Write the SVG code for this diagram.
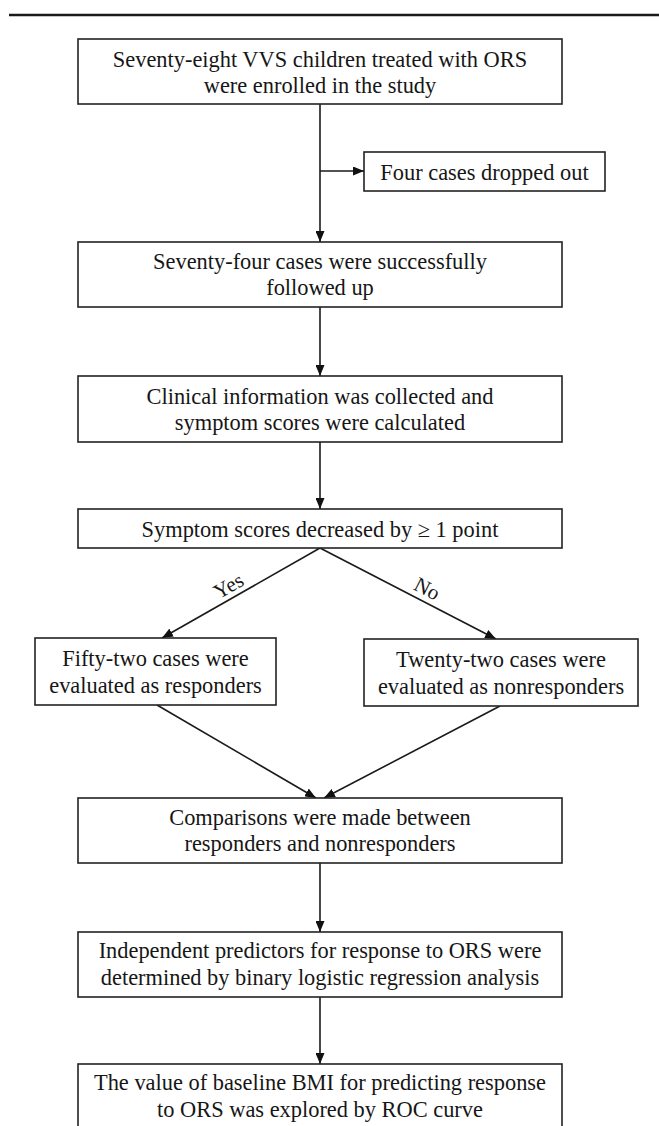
<svg xmlns="http://www.w3.org/2000/svg" width="659" height="1126" viewBox="0 0 659 1126">
<style>
.box{fill:#fff;stroke:#222;stroke-width:1.6}
.t{font-family:"Liberation Serif","Times New Roman",serif;font-size:22.4px;fill:#161616;text-anchor:middle}
.c{fill:none;stroke:#1a1a1a;stroke-width:1.6}
</style>
<defs>
<marker id="ah" markerUnits="userSpaceOnUse" markerWidth="11" markerHeight="9" refX="11" refY="4.5" orient="auto">
<path d="M0,0 L11,4.5 L0,9 z" fill="#111"/>
</marker>
</defs>
<rect width="659" height="1126" fill="#fff"/>
<line x1="9" y1="15" x2="659" y2="15" stroke="#1a1a1a" stroke-width="2.5"/>
<g id="connectors">
<line class="c" x1="320" y1="104" x2="320" y2="242" marker-end="url(#ah)"/>
<line class="c" x1="320" y1="171" x2="364" y2="171" marker-end="url(#ah)"/>
<line class="c" x1="320" y1="307" x2="320" y2="376" marker-end="url(#ah)"/>
<line class="c" x1="320" y1="442" x2="320" y2="509" marker-end="url(#ah)"/>
<line class="c" x1="320" y1="548" x2="162" y2="638" marker-end="url(#ah)"/>
<line class="c" x1="320" y1="548" x2="496" y2="639" marker-end="url(#ah)"/>
<line class="c" x1="157" y1="705" x2="316" y2="798" marker-end="url(#ah)"/>
<line class="c" x1="500" y1="706" x2="324" y2="798" marker-end="url(#ah)"/>
<line class="c" x1="320" y1="863" x2="320" y2="932" marker-end="url(#ah)"/>
<line class="c" x1="320" y1="997" x2="320" y2="1064" marker-end="url(#ah)"/>
<text class="t" style="font-size:21px" x="232" y="592" transform="rotate(-29.7 232 592)">Yes</text>
<text class="t" style="font-size:21px" x="424" y="595" transform="rotate(27.3 424 595)">No</text>
</g>
<g id="n1">
<rect class="box" x="78" y="39" width="484" height="65"/>
<text class="t" x="320" y="67">Seventy-eight VVS children treated with ORS</text>
<text class="t" x="320" y="93">were enrolled in the study</text>
</g>
<g id="n_drop">
<rect class="box" x="364" y="152" width="241" height="39"/>
<text class="t" x="484.5" y="180">Four cases dropped out</text>
</g>
<g id="n2">
<rect class="box" x="78" y="242" width="484" height="65"/>
<text class="t" x="320" y="269">Seventy-four cases were successfully</text>
<text class="t" x="320" y="295">followed up</text>
</g>
<g id="n3">
<rect class="box" x="78" y="376" width="484" height="66"/>
<text class="t" x="320" y="404">Clinical information was collected and</text>
<text class="t" x="320" y="430">symptom scores were calculated</text>
</g>
<g id="n4">
<rect class="box" x="78" y="509" width="484" height="39"/>
<text class="t" x="320" y="537">Symptom scores decreased by ≥ 1 point</text>
</g>
<g id="n_yes">
<rect class="box" x="35" y="638" width="241" height="67"/>
<text class="t" x="155.5" y="666">Fifty-two cases were</text>
<text class="t" x="155.5" y="693">evaluated as responders</text>
</g>
<g id="n_no">
<rect class="box" x="364" y="639" width="274" height="67"/>
<text class="t" x="501" y="667">Twenty-two cases were</text>
<text class="t" x="501" y="694">evaluated as nonresponders</text>
</g>
<g id="n5">
<rect class="box" x="78" y="798" width="484" height="65"/>
<text class="t" x="320" y="825">Comparisons were made between</text>
<text class="t" x="320" y="851">responders and nonresponders</text>
</g>
<g id="n6">
<rect class="box" x="78" y="932" width="484" height="65"/>
<text class="t" x="320" y="958">Independent predictors for response to ORS were</text>
<text class="t" x="320" y="985">determined by binary logistic regression analysis</text>
</g>
<g id="n7">
<rect class="box" x="78" y="1064" width="484" height="80"/>
<text class="t" x="320" y="1090">The value of baseline BMI for predicting response</text>
<text class="t" x="320" y="1117">to ORS was explored by ROC curve</text>
</g>
</svg>
